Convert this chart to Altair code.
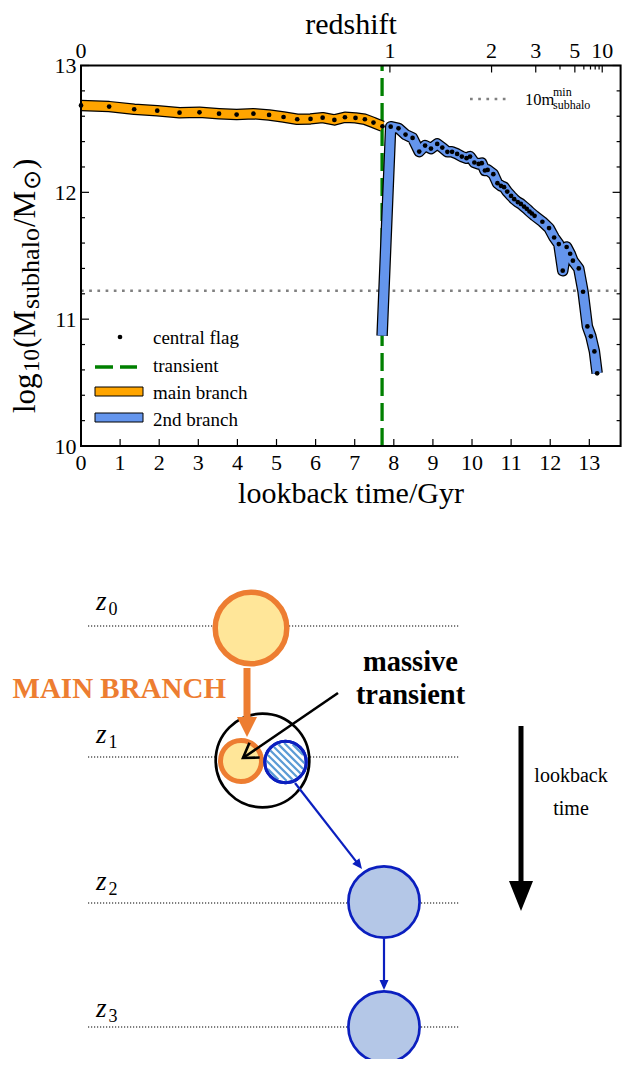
import altair as alt
import numpy as np
import pandas as pd

SERIF = "Liberation Serif, Times New Roman, Times, serif"

# ---------------- data ----------------
main_t = [0.0, 0.72, 1.36, 1.95, 2.52, 3.03, 3.53, 3.98, 4.41, 4.81, 5.18, 5.53,
          5.87, 6.18, 6.48, 6.75, 7.02, 7.26, 7.48, 7.71]
main_m = [12.685, 12.676, 12.655, 12.644, 12.628, 12.631, 12.62, 12.613, 12.62, 12.61,
          12.594, 12.576, 12.579, 12.589, 12.571, 12.592, 12.587, 12.576, 12.55, 12.521]

sec_t = [7.70, 7.92, 8.12, 8.30, 8.48, 8.65, 8.80, 8.95, 9.11, 9.24, 9.37, 9.49, 9.62,
         9.74, 9.86, 9.95, 10.06, 10.17, 10.25, 10.33, 10.40, 10.545, 10.65, 10.74,
         10.82, 10.90, 11.0, 11.08, 11.17, 11.25, 11.33, 11.40, 11.47, 11.53, 11.60,
         11.80, 11.97, 12.10, 12.22, 12.32, 12.42, 12.51, 12.58, 12.73, 12.84, 12.95,
         13.04, 13.13, 13.20]
sec_m = [10.87, 12.518, 12.505, 12.455, 12.429, 12.321, 12.369, 12.345, 12.382, 12.353,
         12.319, 12.319, 12.303, 12.282, 12.269, 12.282, 12.235, 12.224, 12.23, 12.172,
         12.177, 12.143, 12.072, 12.051, 12.041, 12.006, 11.972, 11.946, 11.923, 11.909,
         11.888, 11.87, 11.849, 11.833, 11.815, 11.768, 11.718, 11.644, 11.592, 11.382,
         11.569, 11.516, 11.461, 11.40, 11.216, 10.943, 10.865, 10.746, 10.573]
sec_central = [False] + [True] * (len(sec_t) - 1)

transient_t = [7.7]
threshold_m = [11.224]

x_ticks = list(range(14))
y_major = [10, 11, 12, 13]
y_minor = [10.2, 10.4, 10.6, 10.8, 11.2, 11.4, 11.6, 11.8, 12.2, 12.4, 12.6, 12.8]
z_labels = ["0", "1", "2", "3", "5", "10"]
z_label_t = [0.0, 7.9, 10.5, 11.63, 12.63, 13.33]
z_minor_t = [12.25, 12.86, 13.03, 13.15, 13.25]

# ---- schematic (diagram units) ----
level_names = ["0", "1", "2", "3"]
level_y = [626, 757, 903, 1027]
level_label_y = [610, 743, 890, 1017]
level_x = [88, 460]

main_big = (251, 628)
main_small = (241, 761)
host = (262.5, 760.5)
hatched = (285.5, 762)
second_nodes_x = [384, 384]
second_nodes_y = [902, 1027]

arrow_orange = (247, 668, 247, 737)
arrow_black = (338, 693, 243, 758)
arrow_blue1 = (295, 783, 362, 869)
arrow_blue2 = (384, 939, 384, 990)
arrow_time = (521, 726, 521, 911)

ORANGE = "#ED7D31"
YELLOW = "#FFE699"
DBLUE = "#0B1FBF"
LBLUE = "#B4C7E7"
HATCH = "#5B9BD5"

# ---------------- helpers ----------------
ONE = pd.DataFrame({"k": [0]})


def V(p):
    return alt.value(p - 8)


xs = alt.Scale(domain=[0, 13.8], range=[73, 612.6], nice=False, zero=False)
ys = alt.Scale(domain=[10, 13], range=[438, 57.5], nice=False, zero=False)
dxs = alt.Scale(domain=[0, 634], range=[-8, 626], nice=False, zero=False)
dys = alt.Scale(domain=[0, 1067], range=[-8, 1059], nice=False, zero=False)


def XS(f):
    return alt.X(f, type="quantitative", scale=xs, axis=None)


def YS(f):
    return alt.Y(f, type="quantitative", scale=ys, axis=None)


def DX(f):
    return alt.X(f, type="quantitative", scale=dxs, axis=None)


def DY(f):
    return alt.Y(f, type="quantitative", scale=dys, axis=None)


def txt(s, px, py, size, align="left", baseline="alphabetic", color="black",
        weight=None, style=None, angle=None, font=SERIF):
    kw = dict(text=s, fontSize=size, font=font, align=align, baseline=baseline, color=color)
    if weight:
        kw["fontWeight"] = weight
    if style:
        kw["fontStyle"] = style
    if angle is not None:
        kw["angle"] = angle
    return alt.Chart(ONE).mark_text(**kw).encode(x=V(px), y=V(py))


def vrule(px1, py1, px2, py2, color, width, dash=None):
    kw = dict(color=color, strokeWidth=width)
    if dash:
        kw["strokeDash"] = dash
    return alt.Chart(ONE).mark_rule(**kw).encode(x=V(px1), y=V(py1), x2=V(px2), y2=V(py2))


def circle(cx, cy, r_path, fill, stroke, sw):
    df = pd.DataFrame({"x": [cx], "y": [cy]})
    return alt.Chart(df).mark_point(shape="circle", filled=True, fill=fill, stroke=stroke,
                                    strokeWidth=sw, size=(2 * r_path) ** 2, opacity=1,
                                    fillOpacity=1, strokeOpacity=1).encode(x=DX("x"), y=DY("y"))


def arrow(a, color, width, head_len, head_w, open_head=False):
    x1, y1, x2, y2 = a
    L = np.hypot(x2 - x1, y2 - y1)
    ux, uy = (x2 - x1) / L, (y2 - y1) / L
    back = 0.0 if open_head else head_len * 0.9
    df = pd.DataFrame({"x": [x1], "y": [y1], "x2": [x2 - ux * back], "y2": [y2 - uy * back]})
    shaft = alt.Chart(df).mark_rule(color=color, strokeWidth=width).encode(
        x=DX("x"), y=DY("y"), x2="x2", y2="y2")
    ang = float(np.degrees(np.arctan2(ux, -uy)) % 360)
    w = (head_w / 2) / (head_len / 2)
    if open_head:
        path = f"M{-w:.3f},2L0,0L{w:.3f},2"
    else:
        path = f"M0,0L{w:.3f},2L{-w:.3f},2Z"
    hd = pd.DataFrame({"x": [x2], "y": [y2], "a": [ang]})
    head = alt.Chart(hd).mark_point(shape=path, size=head_len ** 2, filled=not open_head,
                                    color=color, opacity=1, strokeWidth=width,
                                    strokeJoin="miter").encode(
        x=DX("x"), y=DY("y"), angle=alt.Angle("a:Q", scale=None))
    return [shaft, head]


layers = []

# ---------------- top chart ----------------
layers.append(alt.Chart(pd.DataFrame({"m": threshold_m})).mark_rule(
    color="#808080", strokeWidth=2.7, strokeDash=[2.7, 5.5]).encode(
    y=YS("m"), x=V(81), x2=V(620.6)))
layers.append(alt.Chart(pd.DataFrame({"t": transient_t})).mark_rule(
    color="#008000", strokeWidth=3.3, strokeDash=[18, 7]).encode(
    x=XS("t"), y=V(446), y2=V(65.5)))

main_df = pd.DataFrame({"t": main_t, "m": main_m, "i": range(len(main_t))})
sec_df = pd.DataFrame({"t": sec_t, "m": sec_m, "i": range(len(sec_t)), "c": sec_central})

for df, col in [(main_df, "#FFA500"), (sec_df, "#6495ED")]:
    layers.append(alt.Chart(df).mark_line(color="black", strokeWidth=11.5, strokeJoin="round",
                                          strokeCap="butt").encode(
        x=XS("t"), y=YS("m"), order=alt.Order("i:Q")))
    layers.append(alt.Chart(df).mark_line(color=col, strokeWidth=9, strokeJoin="round",
                                          strokeCap="butt").encode(
        x=XS("t"), y=YS("m"), order=alt.Order("i:Q")))

dots = pd.concat([main_df[["t", "m"]], sec_df[sec_df["c"]][["t", "m"]]])
layers.append(alt.Chart(dots).mark_circle(color="black", size=22, opacity=1).encode(
    x=XS("t"), y=YS("m")))

# frame
layers.append(alt.Chart(pd.DataFrame({"x0": [0], "x1": [13.8], "y0": [10], "y1": [13]})).mark_rect(
    fillOpacity=0, stroke="black", strokeWidth=2).encode(
    x=XS("x0"), x2="x1", y=YS("y0"), y2="y1"))

# ticks (inward)
xt = pd.DataFrame({"t": x_ticks, "lab": [str(v) for v in x_ticks]})
layers.append(alt.Chart(xt).mark_rule(color="black", strokeWidth=1.2).encode(
    x=XS("t"), y=V(446), y2=V(439)))
zt = pd.DataFrame({"t": z_label_t, "lab": z_labels})
zm = pd.DataFrame({"t": z_minor_t})
layers.append(alt.Chart(zt).mark_rule(color="black", strokeWidth=1.2).encode(
    x=XS("t"), y=V(65.5), y2=V(72.5)))
layers.append(alt.Chart(zm).mark_rule(color="black", strokeWidth=1.2).encode(
    x=XS("t"), y=V(65.5), y2=V(69.5)))
yM = pd.DataFrame({"m": y_major, "lab": [str(v) for v in y_major]})
ym = pd.DataFrame({"m": y_minor})
for x0, d in [(81, 1), (620.6, -1)]:
    layers.append(alt.Chart(yM).mark_rule(color="black", strokeWidth=1.2).encode(
        y=YS("m"), x=V(x0), x2=V(x0 + 8 * d)))
    layers.append(alt.Chart(ym).mark_rule(color="black", strokeWidth=1.2).encode(
        y=YS("m"), x=V(x0), x2=V(x0 + 4 * d)))

# tick labels
layers.append(alt.Chart(xt).mark_text(font=SERIF, fontSize=22, align="center",
                                      baseline="alphabetic").encode(
    x=XS("t"), y=V(470), text="lab:N"))
layers.append(alt.Chart(zt).mark_text(font=SERIF, fontSize=22, align="center",
                                      baseline="alphabetic").encode(
    x=XS("t"), y=V(58), text="lab:N"))
layers.append(alt.Chart(yM).mark_text(font=SERIF, fontSize=22, align="right",
                                      baseline="alphabetic", dy=7.5).encode(
    y=YS("m"), x=V(76.5), text="lab:N"))

# axis titles
layers.append(txt("redshift", 351, 34, 30, align="center"))
layers.append(txt("lookback time/Gyr", 351, 503, 30, align="center"))
for s, bx, y0, fs in [("log", 35, 413, 31), ("10", 39, 372, 23), ("(M", 35, 348, 31),
                      ("subhalo", 39, 309, 26), ("/M", 35, 227, 31), ("⊙", 40, 190, 24),
                      (")", 35, 169, 31)]:
    layers.append(txt(s, bx, y0, fs, angle=270))

# legend (lower left)
layers.append(alt.Chart(ONE).mark_circle(color="black", size=22, opacity=1).encode(
    x=V(120), y=V(337)))
layers.append(vrule(95, 367, 137, 367, "#008000", 3.3, [18, 7]))
layers.append(alt.Chart(ONE).mark_rect(fill="#FFA500", stroke="black", strokeWidth=1).encode(
    x=V(95), x2=V(143), y=V(387), y2=V(396)))
layers.append(alt.Chart(ONE).mark_rect(fill="#6495ED", stroke="black", strokeWidth=1).encode(
    x=V(95), x2=V(143), y=V(413), y2=V(422)))
for s, yb in [("central flag", 344), ("transient", 372), ("main branch", 399), ("2nd branch", 426)]:
    layers.append(txt(s, 153, yb, 19))

# legend (upper right)
layers.append(vrule(470, 99, 508, 99, "#808080", 2.7, [2.7, 5.5]))
layers.append(txt("10m", 525, 105, 16.5))
layers.append(txt("min", 553, 96, 12))
layers.append(txt("subhalo", 553, 109, 12))

# ---------------- schematic ----------------
for yv in level_y:
    layers.append(alt.Chart(pd.DataFrame({"x": [level_x[0]], "x2": [level_x[1]], "y": [yv]})).mark_rule(
        color="black", strokeWidth=1.2, strokeDash=[1.2, 1.8]).encode(
        x=DX("x"), x2="x2", y=DY("y")))
for nm, yb in zip(level_names, level_label_y):
    layers.append(txt("z", 96, yb, 27, style="italic"))
    layers.append(txt(nm, 108.5, yb + 5, 18))

layers.append(circle(*host, 46.8, "white", "black", 2.7))
layers.append(circle(*main_big, 35.8, YELLOW, ORANGE, 5.5))
layers.append(circle(*main_small, 20.5, YELLOW, ORANGE, 5))
layers.append(circle(*hatched, 20.7, "white", DBLUE, 3))

# hatch stripes inside the 2nd-branch progenitor
hx, hy = hatched
rin = 19.0
offs = np.arange(-17.5, 18, 5.0)
half = np.sqrt(np.clip(rin ** 2 - offs ** 2, 0, None))
nx, ny = 1 / np.sqrt(2), -1 / np.sqrt(2)
ux, uy = 1 / np.sqrt(2), 1 / np.sqrt(2)
hdf = pd.DataFrame({
    "x": hx + offs * nx - half * ux, "y": hy + offs * ny - half * uy,
    "x2": hx + offs * nx + half * ux, "y2": hy + offs * ny + half * uy})
layers.append(alt.Chart(hdf).mark_rule(color=HATCH, strokeWidth=2.2).encode(
    x=DX("x"), y=DY("y"), x2="x2", y2="y2"))
layers.append(circle(*hatched, 20.7, "transparent", DBLUE, 3))

for bx, by in zip(second_nodes_x, second_nodes_y):
    layers.append(circle(bx, by, 35.6, LBLUE, DBLUE, 2.7))

layers += arrow(arrow_orange, ORANGE, 7, 20, 20)
layers += arrow(arrow_black, "black", 2.6, 14, 18, open_head=True)
layers += arrow(arrow_blue1, DBLUE, 2.2, 10, 9)
layers += arrow(arrow_blue2, DBLUE, 2.2, 10, 9)
layers += arrow(arrow_time, "black", 5, 30, 24)

layers.append(txt("MAIN BRANCH", 226, 698, 29, align="right", color=ORANGE, weight="bold"))
layers.append(txt("massive", 410.5, 671, 28.5, align="center", weight="bold"))
layers.append(txt("transient", 410.5, 704, 28.5, align="center", weight="bold"))
layers.append(txt("lookback", 571, 782, 20, align="center"))
layers.append(txt("time", 571, 815, 20, align="center"))

chart = alt.layer(*layers).resolve_scale(x="independent", y="independent").properties(
    width=618, height=1051, padding=0, autosize=alt.AutoSizeParams(type="none")
).configure_view(strokeWidth=0)

chart.save("out.html", embed_options={"renderer": "svg", "actions": False})
